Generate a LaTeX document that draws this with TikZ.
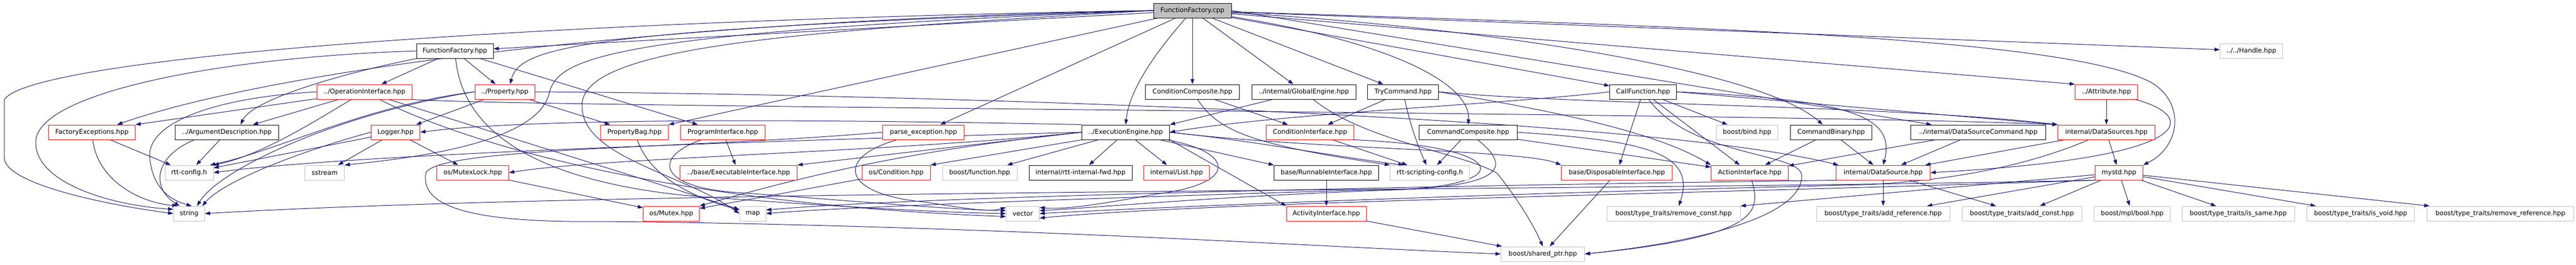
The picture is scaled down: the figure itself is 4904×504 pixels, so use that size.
\documentclass[tikz,border=0pt]{standalone}
\usepackage{fontspec}
\newfontfamily\hdrfont{DejaVu Sans}
\usetikzlibrary{arrows.meta,backgrounds}
\definecolor{edgeblue}{HTML}{191970}
\definecolor{extgray}{HTML}{BFBFBF}
\definecolor{truncred}{HTML}{FF0000}
\tikzset{
	hdr/.style={draw,fill=white,line width=1pt,minimum height=28pt,inner sep=0pt,font=\hdrfont\fontsize{12.3}{14}\selectfont},
	docbox/.style={hdr,draw=black},
	truncbox/.style={hdr,draw=truncred},
	extbox/.style={hdr,draw=extgray},
	rootbox/.style={hdr,draw=black,fill=extgray},
	dep/.style={edgeblue,line width=1pt,-{Triangle[length=10pt,width=7pt]}}
}
\begin{document}
\begin{tikzpicture}[x=1pt,y=-1pt]
	\useasboundingbox (0,0) rectangle (4904,504);
	\node[rootbox,minimum width=148pt] (root) at (2270,20) {FunctionFactory.cpp};
	\node[docbox,minimum width=146pt] (ffh) at (866,97) {FunctionFactory.hpp};
	\node[extbox,minimum width=119pt] (handle) at (4286,97) {../../Handle.hpp};
	\node[truncbox,minimum width=181pt] (opi) at (694,175) {../OperationInterface.hpp};
	\node[truncbox,minimum width=114pt] (prop) at (961,175) {../Property.hpp};
	\node[docbox,minimum width=179pt] (ccomp) at (2270,175) {ConditionComposite.hpp};
	\node[docbox,minimum width=198pt] (geng) at (2482,175) {../internal/GlobalEngine.hpp};
	\node[docbox,minimum width=135pt] (tryc) at (2671,175) {TryCommand.hpp};
	\node[docbox,minimum width=127pt] (callf) at (3128,175) {CallFunction.hpp};
	\node[truncbox,minimum width=119pt] (attr) at (4010,175) {../Attribute.hpp};
	\node[truncbox,minimum width=165pt] (fexc) at (175,252) {FactoryExceptions.hpp};
	\node[docbox,minimum width=197pt] (argd) at (432,252) {../ArgumentDescription.hpp};
	\node[truncbox,minimum width=93pt] (logger) at (753,252) {Logger.hpp};
	\node[truncbox,minimum width=129pt] (pbag) at (1208,252) {PropertyBag.hpp};
	\node[truncbox,minimum width=161pt] (pint) at (1376,252) {ProgramInterface.hpp};
	\node[truncbox,minimum width=155pt] (parse) at (1758,252) {parse\_exception.hpp};
	\node[docbox,minimum width=167pt] (ee) at (2143,252) {../ExecutionEngine.hpp};
	\node[truncbox,minimum width=167pt] (cint) at (2494,252) {ConditionInterface.hpp};
	\node[docbox,minimum width=187pt] (cmdc) at (2795,252) {CommandComposite.hpp};
	\node[extbox,minimum width=117pt] (bind) at (3326,252) {boost/bind.hpp};
	\node[docbox,minimum width=155pt] (cmdb) at (3486,252) {CommandBinary.hpp};
	\node[docbox,minimum width=257pt] (dscmd) at (3766,252) {../internal/DataSourceCommand.hpp};
	\node[truncbox,minimum width=185pt] (dss) at (4010,252) {internal/DataSources.hpp};
	\node[extbox,minimum width=92pt] (rttc) at (360,329) {rtt-config.h};
	\node[extbox,minimum width=75pt] (sst) at (618,329) {sstream};
	\node[truncbox,minimum width=137pt] (mlock) at (900,329) {os/MutexLock.hpp};
	\node[truncbox,minimum width=223pt] (execi) at (1406,329) {../base/ExecutableInterface.hpp};
	\node[truncbox,minimum width=130pt] (cond) at (1706,329) {os/Condition.hpp};
	\node[extbox,minimum width=142pt] (bfunc) at (1865,329) {boost/function.hpp};
	\node[docbox,minimum width=196pt] (fwd) at (2057,329) {internal/rtt-internal-fwd.hpp};
	\node[truncbox,minimum width=125pt] (list) at (2240,329) {internal/List.hpp};
	\node[docbox,minimum width=199pt] (runi) at (2525,329) {base/RunnableInterface.hpp};
	\node[extbox,minimum width=151pt] (rtsc) at (2722,329) {rtt-scripting-config.h};
	\node[truncbox,minimum width=211pt] (dispi) at (3078,329) {base/DisposableInterface.hpp};
	\node[truncbox,minimum width=147pt] (acti) at (3331,329) {ActionInterface.hpp};
	\node[truncbox,minimum width=179pt] (ds) at (3585,329) {internal/DataSource.hpp};
	\node[truncbox,minimum width=91pt] (mystd) at (4034,329) {mystd.hpp};
	\node[extbox,minimum width=59pt] (str) at (360,407) {string};
	\node[truncbox,minimum width=107pt] (mutex) at (1278,407) {os/Mutex.hpp};
	\node[extbox,minimum width=50pt] (map) at (1433,407) {map};
	\node[extbox,minimum width=63pt] (vec) at (1947,407) {vector};
	\node[truncbox,minimum width=152pt] (actvi) at (2525,407) {ActivityInterface.hpp};
	\node[extbox,minimum width=254pt] (rconst) at (3186,407) {boost/type\_traits/remove\_const.hpp};
	\node[extbox,minimum width=254pt] (addref) at (3585,407) {boost/type\_traits/add\_reference.hpp};
	\node[extbox,minimum width=228pt] (addconst) at (3849,407) {boost/type\_traits/add\_const.hpp};
	\node[extbox,minimum width=145pt] (mplbool) at (4059,407) {boost/mpl/bool.hpp};
	\node[extbox,minimum width=214pt] (issame) at (4261,407) {boost/type\_traits/is\_same.hpp};
	\node[extbox,minimum width=205pt] (isvoid) at (4494,407) {boost/type\_traits/is\_void.hpp};
	\node[extbox,minimum width=279pt] (rref) at (4760,407) {boost/type\_traits/remove\_reference.hpp};
	\node[extbox,minimum width=159pt] (sptr) at (2937,484) {boost/shared\_ptr.hpp};
	\begin{scope}[on background layer]
		\foreach \a/\b in {root/ffh,root/pbag.north east,root/parse,root/ccomp,root/geng,root/tryc,root/callf,root.east/dscmd,root/attr.north west,root/handle,
			ffh/opi,ffh/prop,ffh/pint,opi/fexc.north east,opi/argd,opi/map,prop/logger,prop/pbag,
			logger/sst,logger/mlock,logger/rttc,fexc/rttc,argd/rttc,mlock/mutex,cond/mutex,pint/execi,
			ee/bfunc,ee/fwd,ee/list,ee/runi.north west,ee.south east/actvi.north west,ee.south west/cond.north east,ee.west/execi.north east,
			geng/ee.north east,ccomp/cint,tryc/cint,cmdc/rtsc,cint/rtsc,callf/dispi,callf/acti,callf/bind,callf.east/dss.north west,
			cmdc/acti,cmdb/acti,cmdb/ds,dscmd/ds,dscmd/acti,attr/dss,dss/ds,dss/mystd,ds/addref,ds/addconst,
			mystd/addref,mystd/addconst,mystd/mplbool,mystd/issame,mystd/isvoid,mystd/rref,mystd/rconst.north east,
			runi/actvi,actvi/sptr,dispi/sptr}
		\draw[dep] (\a) -- (\b);
		\draw[dep] (root.west) .. controls (1000,40) and (60,110) .. (8,190) -- (8,300) .. controls (8,350) and (200,390) .. (str.west);
		\draw[dep] (ffh.west) .. controls (400,110) and (70,180) .. (68,270) .. controls (66,345) and (200,390) .. (str.165);
		\draw[dep] (root.west) .. controls (1200,40) and (500,140) .. ([xshift=48pt]fexc.north);
		\draw[dep] (root.west) .. controls (1100,55) and (990,90) .. ([xshift=10pt]prop.north);
		\draw[dep] (root.west) .. controls (1150,62) and (1060,110) .. (1045,180) .. controls (1020,270) and (800,300) .. (sst.north east);
		\draw[dep] (root.west) .. controls (1500,60) and (1110,90) .. (1108,200) .. controls (1106,300) and (1300,330) .. (map.west);
		\draw[dep] (root) .. controls (2200,100) and (2150,170) .. (ee.north);
		\draw[dep] (root) .. controls (2650,80) and (2800,160) .. (cmdc.north);
		\draw[dep] (root) .. controls (2800,50) and (3350,130) .. (cmdb);
		\draw[dep] (root) .. controls (3200,50) and (3950,70) .. (4100,160) .. controls (4160,200) and (4150,280) .. (mystd.north east);
		\draw[dep] (ffh) .. controls (650,140) and (480,190) .. ([xshift=26pt]argd.north);
		\draw[dep] (ffh) .. controls (880,240) and (1000,340) .. (1300,372) .. controls (1600,395) and (1800,405) .. (vec.west);
		\draw[dep] (opi.west) .. controls (420,185) and (280,230) .. (285,300) .. controls (290,355) and (320,380) .. ([xshift=5pt]str.north);
		\draw[dep] (opi) .. controls (600,230) and (500,295) .. (rttc.north east);
		\draw[dep] (opi) .. controls (900,280) and (1300,390) .. (vec.190);
		\draw[dep] (opi.south east) .. controls (1000,205) and (3400,215) .. (dss.north west);
		\draw[dep] (prop.west) .. controls (700,200) and (520,290) .. (rttc.20);
		\draw[dep] (prop.west) .. controls (650,215) and (420,320) .. ([xshift=15pt]str.north);
		\draw[dep] (prop.east) .. controls (1600,178) and (3100,215) .. ([xshift=-85pt]ds.north);
		\draw[dep] (logger.west) .. controls (600,280) and (430,340) .. ([xshift=25pt]str.north);
		\draw[dep] (fexc) .. controls (185,340) and (260,385) .. ([xshift=-22pt]str.north);
		\draw[dep] ([xshift=-62pt]argd.south) .. controls (290,300) and (290,360) .. ([xshift=-18pt]str.north);
		\draw[dep] (ee.north west) .. controls (1500,226) and (1000,226) .. (logger.east);
		\draw[dep] (ee.west) .. controls (1800,280) and (1600,315) .. (mutex.north east);
		\draw[dep] (ee.west) .. controls (1700,290) and (1150,300) .. (mlock.east);
		\draw[dep] (ee.west) .. controls (1600,265) and (700,290) .. (rttc.east);
		\draw[dep] (ee) .. controls (2350,290) and (2360,350) .. (2200,370) .. controls (2100,388) and (2030,400) .. (vec.20);
		\draw[dep] (ee.east) .. controls (2400,270) and (2550,300) .. ([xshift=-50pt]rtsc.north);
		\draw[dep] (ee.east) .. controls (2500,285) and (2900,285) .. (dispi.north west);
		\draw[dep] (ccomp) .. controls (2320,250) and (2380,275) .. (rtsc.north west);
		\draw[dep] (tryc) .. controls (2685,240) and (2700,280) .. (rtsc);
		\draw[dep] (geng) .. controls (2600,270) and (2780,290) .. (2850,330) .. controls (2890,380) and (2920,430) .. (sptr.north);
		\draw[dep] (cmdc) .. controls (2880,320) and (2860,355) .. (2650,362) .. controls (2300,375) and (2100,395) .. (vec.10);
		\draw[dep] (cint.south east) .. controls (2900,280) and (2890,365) .. (2600,362) .. controls (2000,380) and (1600,395) .. (map.east);
		\draw[dep] (cmdc.east) .. controls (3130,268) and (3230,290) .. ([xshift=10pt]rconst.north);
		\draw[dep] (tryc.east) .. controls (2950,210) and (3150,250) .. (acti.north west);
		\draw[dep] (tryc.east) .. controls (3000,200) and (3600,200) .. (dss.north west);
		\draw[dep] (callf.west) .. controls (2850,200) and (2450,215) .. (ee.east);
		\draw[dep] (callf.east) .. controls (3520,190) and (3610,220) .. (ds.north);
		\draw[dep] (callf) .. controls (3220,300) and (3430,290) .. (3430,335) .. controls (3430,420) and (3200,465) .. (sptr.east);
		\draw[dep] (acti) .. controls (3350,400) and (3360,450) .. (sptr.east);
		\draw[dep] (attr) .. controls (4180,220) and (4200,300) .. (ds.east);
		\draw[dep] (dss) .. controls (3850,320) and (3700,345) .. (3550,352) .. controls (2800,370) and (2200,395) .. (vec.east);
		\draw[dep] (mystd.south west) .. controls (3000,365) and (1200,360) .. (str.east);
		\draw[dep] (mystd.south west) .. controls (3200,370) and (2300,385) .. (vec.345);
		\draw[dep] (ds.south west) .. controls (3000,350) and (1800,370) .. (map.15);
		\draw[dep] (pbag) .. controls (1225,300) and (1260,360) .. (map.165);
		\draw[dep] (pint) .. controls (1240,300) and (1250,360) .. (1420,368) .. controls (1650,385) and (1820,400) .. (vec.170);
		\draw[dep] (parse) .. controls (1590,300) and (1600,370) .. (1760,385) .. controls (1840,397) and (1880,405) .. (vec.160);
		\draw[dep] (parse.west) .. controls (1300,285) and (800,280) .. (810,335) .. controls (805,395) and (900,425) .. (1150,422) .. controls (1900,430) and (2500,470) .. (sptr.west);
	\end{scope}
\end{tikzpicture}
\end{document}
